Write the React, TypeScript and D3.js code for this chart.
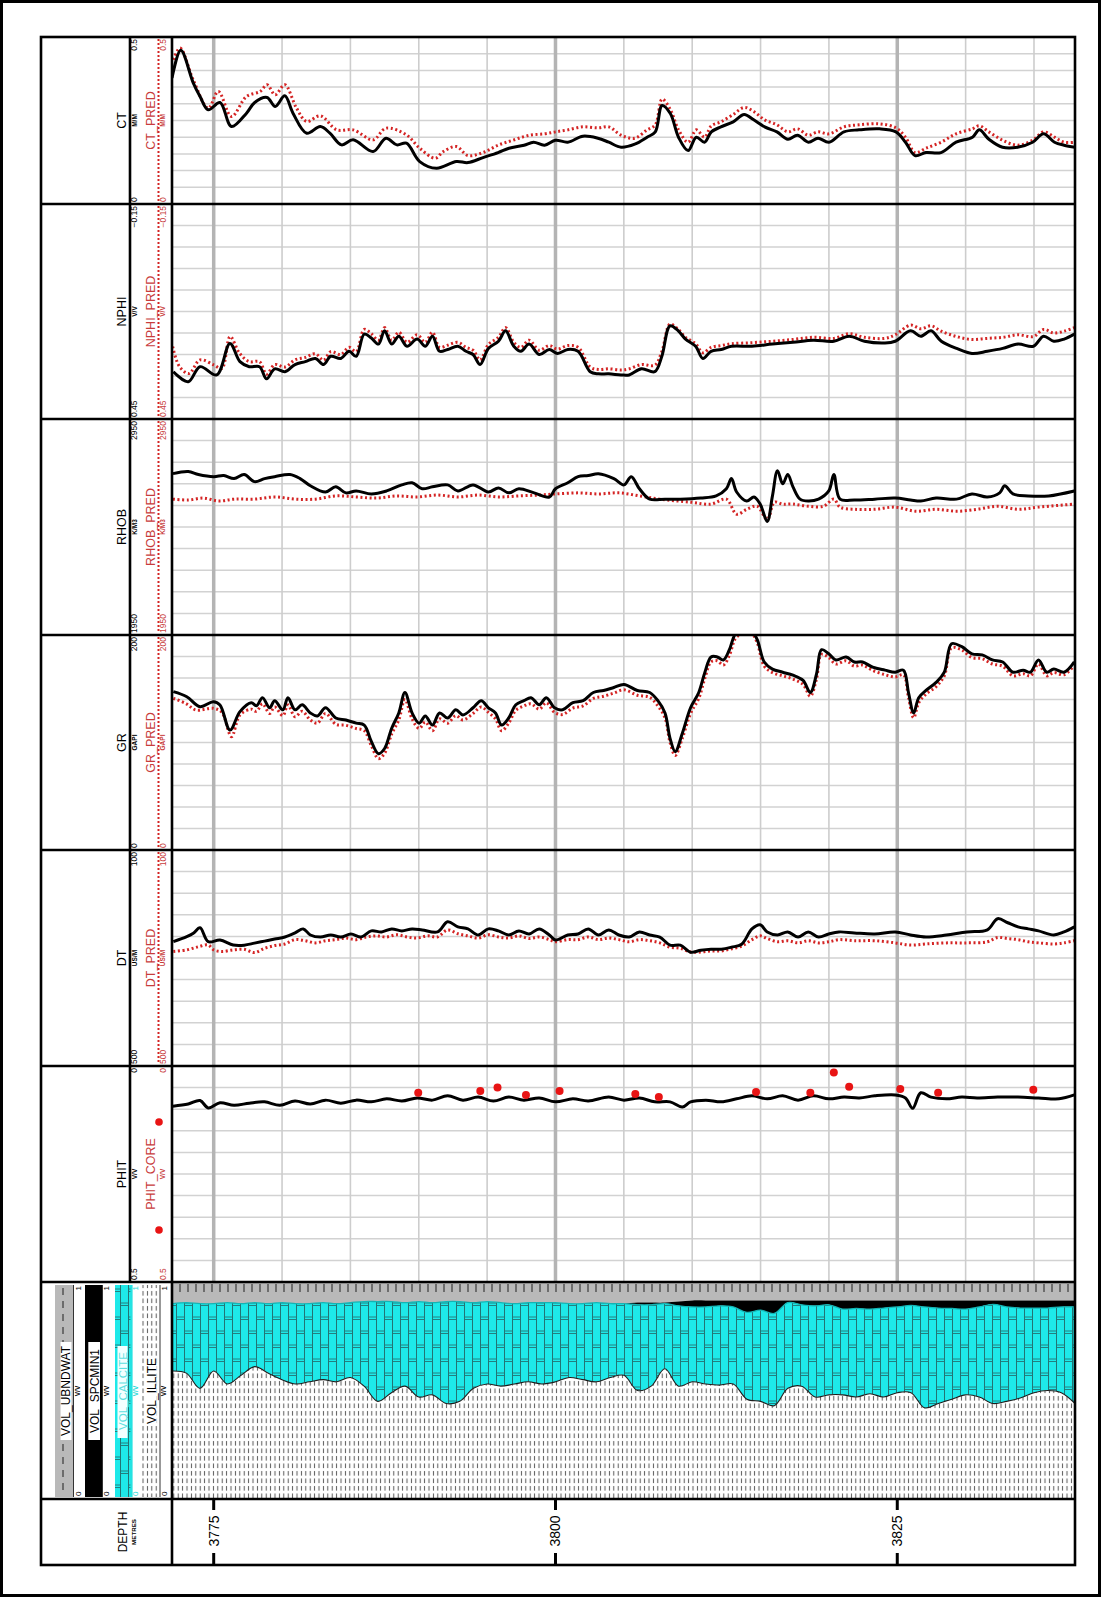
import React from 'react';
import * as d3 from 'd3';

type P = [number, number];

// ---------------- log curves: [depth (m), value] ----------------
const CT: P[] = [[3771.95,0.377],[3772.59,0.46],[3773.51,0.362],[3774.0,0.322],[3774.6,0.282],[3775.46,0.304],[3776.3,0.232],[3777.4,0.272],[3778.0,0.304],[3778.9,0.319],[3779.5,0.292],[3780.2,0.324],[3780.8,0.272],[3781.8,0.212],[3782.8,0.232],[3783.5,0.212],[3784.35,0.177],[3785.2,0.192],[3786.66,0.157],[3787.6,0.197],[3788.4,0.177],[3789.1,0.182],[3790.07,0.127],[3791.3,0.107],[3792.75,0.127],[3793.6,0.124],[3794.7,0.139],[3795.8,0.154],[3796.6,0.167],[3797.7,0.176],[3798.4,0.185],[3799.2,0.176],[3800.0,0.191],[3800.9,0.185],[3802.0,0.203],[3803.1,0.197],[3803.9,0.185],[3804.8,0.17],[3805.8,0.179],[3806.7,0.2],[3807.3,0.216],[3807.8,0.295],[3808.4,0.271],[3809.0,0.2],[3809.7,0.16],[3810.3,0.2],[3810.9,0.185],[3811.4,0.216],[3812.1,0.231],[3813.0,0.246],[3813.8,0.268],[3814.5,0.252],[3815.3,0.231],[3816.2,0.216],[3817.0,0.194],[3817.7,0.206],[3818.5,0.185],[3819.2,0.197],[3820.0,0.185],[3821.1,0.216],[3822.2,0.222],[3823.7,0.225],[3824.9,0.216],[3825.6,0.185],[3826.3,0.145],[3827.1,0.154],[3828.2,0.154],[3829.3,0.185],[3830.5,0.2],[3831.0,0.222],[3831.7,0.194],[3832.7,0.17],[3833.8,0.17],[3834.9,0.185],[3835.7,0.21],[3836.5,0.185],[3837.2,0.176],[3838.0,0.17]];
const CT_PRED: P[] = [[3772.05,0.432],[3772.54,0.467],[3773.5,0.372],[3774.6,0.287],[3775.34,0.337],[3776.3,0.262],[3777.4,0.322],[3778.4,0.337],[3778.9,0.357],[3779.5,0.327],[3780.2,0.357],[3781.06,0.287],[3781.8,0.247],[3782.8,0.264],[3784.0,0.222],[3785.2,0.222],[3786.66,0.192],[3787.6,0.227],[3789.1,0.207],[3790.07,0.167],[3791.2,0.137],[3791.8,0.157],[3792.75,0.172],[3793.6,0.145],[3794.7,0.154],[3795.8,0.176],[3796.9,0.191],[3798.1,0.206],[3799.2,0.21],[3800.0,0.216],[3800.9,0.222],[3802.0,0.231],[3803.1,0.228],[3803.9,0.231],[3804.8,0.206],[3805.8,0.197],[3806.7,0.222],[3807.3,0.237],[3807.8,0.314],[3808.4,0.283],[3809.0,0.222],[3809.7,0.185],[3810.3,0.222],[3810.9,0.2],[3811.4,0.234],[3812.1,0.246],[3813.0,0.268],[3813.8,0.289],[3814.5,0.277],[3815.3,0.252],[3816.2,0.237],[3817.0,0.216],[3817.7,0.225],[3818.5,0.206],[3819.2,0.216],[3820.0,0.21],[3821.1,0.231],[3822.2,0.237],[3823.7,0.24],[3824.9,0.228],[3825.6,0.2],[3826.3,0.154],[3827.1,0.167],[3828.2,0.185],[3829.3,0.21],[3830.5,0.225],[3831.0,0.234],[3831.7,0.216],[3832.7,0.191],[3833.8,0.176],[3834.9,0.191],[3835.7,0.216],[3836.5,0.2],[3837.2,0.185],[3838.0,0.185]];

const NPHI: P[] = [[3772.05,0.318],[3773.14,0.346],[3774.0,0.304],[3775.22,0.327],[3776.19,0.239],[3776.92,0.29],[3777.6,0.304],[3778.35,0.304],[3778.87,0.338],[3779.46,0.31],[3780.21,0.318],[3780.95,0.298],[3781.7,0.29],[3782.44,0.281],[3783.04,0.298],[3783.56,0.275],[3784.3,0.281],[3784.9,0.261],[3785.42,0.275],[3786.01,0.213],[3786.53,0.224],[3787.05,0.241],[3787.5,0.204],[3788.02,0.241],[3788.54,0.219],[3789.14,0.247],[3789.88,0.227],[3790.48,0.247],[3791.0,0.219],[3791.52,0.261],[3792.11,0.256],[3792.86,0.247],[3793.45,0.261],[3793.97,0.27],[3794.49,0.298],[3795.09,0.253],[3795.83,0.233],[3796.35,0.204],[3796.95,0.247],[3797.47,0.261],[3798.07,0.241],[3798.81,0.27],[3799.55,0.256],[3800.15,0.267],[3800.9,0.256],[3801.65,0.261],[3802.54,0.318],[3803.14,0.324],[3803.89,0.324],[3804.79,0.327],[3805.39,0.327],[3806.29,0.31],[3807.26,0.318],[3807.78,0.275],[3808.38,0.19],[3808.98,0.204],[3809.51,0.227],[3810.25,0.247],[3810.78,0.281],[3811.38,0.261],[3812.13,0.256],[3812.87,0.247],[3814.37,0.247],[3815.87,0.241],[3817.37,0.236],[3818.86,0.23],[3820.36,0.233],[3821.48,0.219],[3822.6,0.233],[3824.1,0.238],[3824.85,0.233],[3825.97,0.204],[3826.72,0.219],[3827.47,0.204],[3828.22,0.233],[3829.34,0.253],[3830.46,0.267],[3831.59,0.261],[3832.71,0.253],[3833.83,0.241],[3834.96,0.247],[3835.7,0.219],[3836.45,0.233],[3837.2,0.227],[3837.95,0.213]];
const NPHI_PRED: P[] = [[3772.0,0.248],[3772.5,0.304],[3773.2,0.323],[3774.0,0.285],[3775.0,0.299],[3775.6,0.309],[3776.2,0.22],[3776.9,0.267],[3777.6,0.29],[3778.35,0.29],[3778.87,0.325],[3779.46,0.298],[3780.21,0.305],[3780.95,0.285],[3781.7,0.278],[3782.44,0.268],[3783.04,0.286],[3783.56,0.262],[3784.3,0.27],[3784.9,0.25],[3785.42,0.262],[3786.01,0.2],[3786.53,0.212],[3787.05,0.23],[3787.5,0.195],[3788.02,0.23],[3788.54,0.208],[3789.14,0.236],[3789.88,0.215],[3790.48,0.236],[3791.0,0.208],[3791.52,0.25],[3792.11,0.244],[3792.86,0.236],[3793.45,0.25],[3793.97,0.258],[3794.49,0.285],[3795.09,0.242],[3795.83,0.222],[3796.35,0.195],[3796.95,0.236],[3797.47,0.25],[3798.07,0.23],[3798.81,0.258],[3799.55,0.245],[3800.15,0.255],[3800.9,0.245],[3801.65,0.25],[3802.54,0.305],[3803.14,0.312],[3803.89,0.31],[3804.79,0.313],[3805.39,0.31],[3806.29,0.298],[3807.26,0.3],[3807.78,0.262],[3808.38,0.185],[3808.98,0.2],[3809.51,0.222],[3810.25,0.24],[3810.78,0.265],[3811.38,0.25],[3812.13,0.245],[3812.87,0.24],[3814.37,0.237],[3815.87,0.233],[3817.37,0.228],[3818.86,0.222],[3820.36,0.225],[3821.48,0.212],[3822.6,0.222],[3824.1,0.225],[3824.85,0.215],[3825.97,0.188],[3826.72,0.198],[3827.47,0.19],[3828.22,0.205],[3829.34,0.22],[3830.46,0.228],[3831.59,0.225],[3832.71,0.222],[3833.83,0.215],[3834.96,0.22],[3835.7,0.2],[3836.45,0.21],[3837.2,0.205],[3837.95,0.195]];

const RHOB: P[] = [[3772.02,2697],[3773.14,2707],[3773.88,2693],[3775.0,2683],[3775.74,2688],[3776.49,2674],[3777.23,2693],[3777.98,2660],[3778.72,2674],[3779.46,2683],[3780.58,2693],[3781.32,2674],[3782.07,2641],[3783.18,2612],[3783.93,2636],[3784.67,2608],[3785.42,2617],[3786.53,2603],[3787.65,2617],[3788.76,2645],[3789.51,2655],[3790.25,2627],[3791.0,2636],[3792.11,2645],[3792.86,2617],[3793.97,2645],[3795.09,2612],[3795.83,2631],[3796.58,2608],[3797.32,2627],[3798.44,2608],[3799.55,2589],[3800.0,2627],[3800.9,2655],[3801.65,2683],[3802.4,2688],[3803.14,2697],[3804.27,2674],[3805.01,2645],[3805.54,2683],[3806.14,2627],[3806.89,2579],[3808.01,2579],[3809.13,2579],[3810.63,2584],[3811.75,2594],[3812.5,2627],[3812.87,2674],[3813.25,2612],[3813.99,2570],[3814.52,2589],[3814.97,2556],[3815.49,2476],[3815.87,2594],[3816.24,2711],[3816.62,2650],[3816.99,2693],[3817.37,2636],[3817.89,2579],[3818.49,2570],[3819.24,2579],[3819.99,2617],[3820.36,2693],[3820.81,2579],[3821.86,2575],[3823.35,2579],[3824.85,2584],[3825.97,2575],[3826.72,2570],[3827.84,2584],[3829.34,2579],[3830.46,2603],[3831.59,2589],[3832.49,2608],[3832.86,2641],[3833.46,2603],[3834.58,2594],[3836.08,2594],[3837.95,2617]];
const RHOB_PRED: P[] = [[3772.02,2579],[3773.14,2575],[3774.26,2584],[3775.37,2570],[3776.49,2579],[3777.98,2579],[3779.46,2589],[3780.95,2579],[3782.44,2579],[3783.93,2594],[3785.42,2589],[3786.9,2584],[3788.39,2594],[3789.88,2589],[3791.37,2598],[3792.86,2589],[3794.35,2598],[3795.83,2589],[3797.32,2594],[3798.81,2598],[3800.0,2603],[3801.65,2608],[3803.14,2603],[3804.64,2608],[3806.14,2594],[3807.63,2579],[3809.88,2565],[3811.38,2556],[3812.5,2579],[3813.25,2509],[3813.99,2532],[3814.75,2546],[3815.49,2485],[3816.02,2565],[3816.62,2556],[3817.37,2556],[3818.49,2546],[3819.61,2546],[3820.36,2579],[3820.81,2542],[3821.86,2532],[3823.35,2532],[3824.85,2542],[3826.35,2523],[3827.84,2532],[3829.34,2523],[3830.84,2532],[3832.34,2546],[3833.83,2532],[3835.33,2542],[3837.95,2556]];

const GR: P[] = [[3772.05,147.3],[3773.03,142.6],[3774.0,133.3],[3774.97,138],[3775.46,134.9],[3776.19,111.6],[3776.92,128.7],[3777.75,137.0],[3778.13,134.2],[3778.57,141.7],[3779.09,132.3],[3779.46,138.9],[3780.06,130.4],[3780.43,141.7],[3780.95,130.4],[3781.47,135.1],[3782.07,127.5],[3782.59,124.7],[3783.18,132.3],[3783.93,122.8],[3784.67,120.9],[3785.42,118.0],[3786.01,116.2],[3786.53,101.0],[3787.05,89.6],[3787.5,94.4],[3788.02,113.3],[3788.54,127.5],[3788.99,146.5],[3789.51,127.5],[3790.03,118.0],[3790.48,124.7],[3791.0,116.2],[3791.52,127.5],[3792.11,122.8],[3792.71,130.4],[3793.23,125.6],[3793.97,132.3],[3794.57,138.9],[3795.09,132.3],[3795.61,127.5],[3796.06,116.2],[3796.58,122.8],[3797.1,135.1],[3797.69,138.9],[3798.21,141.7],[3798.81,135.1],[3799.33,141.7],[3799.93,132.3],[3800.52,130.4],[3801.27,137.0],[3802.02,138.9],[3802.77,146.5],[3803.52,148.4],[3804.27,151.2],[3805.01,154.0],[3805.99,148.4],[3806.89,146.5],[3807.49,138.9],[3808.01,127.5],[3808.38,103.8],[3808.76,91.5],[3809.28,108.6],[3809.88,132.3],[3810.48,146.5],[3810.93,165.4],[3811.38,179.6],[3811.83,179.6],[3812.28,176.8],[3812.72,186.3],[3813.17,201],[3813.62,203],[3814.37,203],[3814.75,196],[3815.27,174.9],[3815.87,168.3],[3816.62,165.4],[3817.37,162.6],[3818.11,157.8],[3818.64,146.5],[3819.09,163.5],[3819.46,186.3],[3819.99,182.5],[3820.51,176.8],[3821.26,179.6],[3821.86,174.9],[3822.46,174.9],[3823.2,170.1],[3824.1,167.3],[3824.85,165.4],[3825.45,167.3],[3825.82,146.5],[3826.2,127.5],[3826.57,141.7],[3827.1,148.4],[3827.84,155.9],[3828.44,165.4],[3828.97,191.9],[3829.72,189.1],[3830.46,182.5],[3831.21,181.5],[3831.96,176.8],[3832.71,174.9],[3833.46,165.4],[3834.21,167.3],[3834.73,165.4],[3835.33,176.8],[3835.93,165.4],[3836.45,168.3],[3837.2,165.4],[3837.95,174.9]];
const GR_PRED: P[] = [[3772.05,141.1],[3773.0,136],[3773.7,130.2],[3774.97,131.8],[3775.6,128],[3776.3,105.4],[3776.92,125.6],[3777.75,131],[3778.13,129],[3778.57,136],[3779.09,127],[3779.46,133],[3780.06,125],[3780.43,135],[3780.95,124],[3781.47,129],[3782.07,121],[3782.59,118],[3783.18,127],[3783.93,117],[3784.67,116],[3785.42,113],[3786.01,111],[3786.53,97],[3787.05,85],[3787.5,90],[3788.02,108],[3788.54,121],[3788.99,140],[3789.51,122],[3790.03,113],[3790.48,119],[3791.0,111],[3791.52,122],[3792.11,118],[3792.71,125],[3793.23,121],[3793.97,127],[3794.57,133],[3795.09,128],[3795.61,122],[3796.06,111],[3796.58,118],[3797.1,130],[3797.69,134],[3798.21,136],[3798.81,131],[3799.33,137],[3799.93,128],[3800.52,126],[3801.27,132],[3802.02,134],[3802.77,141],[3803.52,143],[3804.27,146],[3805.01,149],[3805.99,144],[3806.89,142],[3807.49,134],[3808.01,123],[3808.38,100],[3808.76,88],[3809.28,104],[3809.88,127],[3810.48,141],[3810.93,160],[3811.38,175],[3811.83,176],[3812.28,172],[3812.72,181],[3813.17,197],[3813.62,201],[3814.37,201],[3814.75,193],[3815.27,171],[3815.87,165],[3816.62,162],[3817.37,159],[3818.11,154],[3818.64,143],[3819.09,159],[3819.46,182],[3819.99,179],[3820.51,173],[3821.26,176],[3821.86,171],[3822.46,172],[3823.2,167],[3824.1,163],[3824.85,161],[3825.45,163],[3825.82,142],[3826.2,123],[3826.57,137],[3827.1,145],[3827.84,152],[3828.44,162],[3828.97,188],[3829.72,186],[3830.46,179],[3831.21,178],[3831.96,173],[3832.71,171],[3833.46,162],[3834.21,164],[3834.73,162],[3835.33,173],[3835.93,162],[3836.45,165],[3837.2,163],[3837.95,172]];

const DT: P[] = [[3772.05,269.8],[3773.03,260.6],[3773.51,254.3],[3774.0,243.9],[3774.6,269.8],[3775.46,266.7],[3776.43,275.9],[3777.23,276.2],[3777.98,272.5],[3778.72,268.7],[3779.46,264.9],[3780.21,261.2],[3780.95,253.6],[3781.55,246.1],[3782.07,257.4],[3782.81,261.2],[3783.56,257.4],[3784.3,261.2],[3785.04,255.5],[3785.79,261.2],[3786.53,249.8],[3787.28,251.7],[3788.02,246.1],[3788.76,249.8],[3789.51,246.1],[3790.25,248.0],[3791.37,251.7],[3792.11,232.9],[3792.86,242.3],[3793.6,246.1],[3794.35,257.4],[3795.09,246.1],[3795.83,249.8],[3796.58,257.4],[3797.32,249.8],[3798.07,255.5],[3798.81,246.1],[3799.55,257.4],[3800.0,266.8],[3800.9,257.4],[3801.65,255.5],[3802.4,246.1],[3803.14,257.4],[3803.89,248.0],[3804.64,257.4],[3805.39,261.2],[3806.14,251.7],[3806.89,257.4],[3807.63,261.2],[3808.38,276.2],[3809.13,276.2],[3809.88,289.4],[3810.63,285.7],[3811.38,283.8],[3812.13,283.8],[3812.87,280.0],[3813.62,274.4],[3814.37,246.1],[3814.97,238.5],[3815.49,251.7],[3816.24,257.4],[3816.99,251.7],[3817.74,261.2],[3818.49,251.7],[3819.24,261.2],[3819.99,255.5],[3820.73,251.7],[3821.86,253.6],[3823.35,255.5],[3824.85,251.7],[3825.97,257.4],[3827.1,261.2],[3828.59,257.4],[3830.09,251.7],[3831.59,248.0],[3832.34,227.2],[3833.08,234.7],[3833.83,242.3],[3834.58,246.1],[3835.33,249.8],[3836.45,257.4],[3837.2,251.7],[3837.95,242.3]];
const DT_PRED: P[] = [[3772.05,288],[3773.03,285],[3773.9,279],[3774.6,276],[3775.0,285],[3775.6,288],[3776.43,285],[3777.23,284],[3777.98,290],[3778.72,282],[3779.46,277],[3780.21,274],[3780.95,266],[3781.7,268],[3782.44,272],[3783.18,268],[3783.93,266],[3784.67,263],[3785.42,266],[3786.16,261],[3786.9,259],[3787.65,261],[3788.39,257],[3789.14,261],[3789.88,263],[3790.63,259],[3791.37,261],[3792.11,248],[3792.86,255],[3793.6,259],[3794.35,263],[3795.09,257],[3795.83,261],[3796.58,263],[3797.32,259],[3798.07,264],[3798.81,261],[3799.55,266],[3800.0,270],[3800.9,266],[3801.65,266],[3802.4,261],[3803.14,266],[3803.89,263],[3804.64,266],[3805.39,270],[3806.14,266],[3806.89,268],[3807.63,272],[3808.38,280],[3809.13,282],[3809.88,289],[3810.63,289],[3811.38,287],[3812.13,287],[3812.87,283],[3813.62,278],[3814.37,266],[3814.97,259],[3815.49,264],[3816.24,270],[3816.99,268],[3817.74,272],[3818.49,268],[3819.24,272],[3819.99,270],[3820.73,266],[3821.86,268],[3823.35,268],[3824.85,272],[3825.97,276],[3827.1,274],[3828.59,272],[3830.09,272],[3831.59,270],[3832.34,262],[3833.08,264],[3833.83,266],[3834.58,270],[3835.33,272],[3836.45,274],[3837.2,272],[3837.95,268]];

const PHIT: P[] = [[3772.02,0.093],[3773.14,0.088],[3774.0,0.08],[3774.6,0.097],[3775.46,0.085],[3776.49,0.091],[3777.6,0.086],[3778.72,0.083],[3779.84,0.091],[3780.95,0.081],[3782.07,0.088],[3783.18,0.079],[3784.3,0.086],[3785.42,0.079],[3786.53,0.083],[3787.65,0.076],[3788.76,0.081],[3789.88,0.074],[3791.0,0.079],[3792.11,0.069],[3793.23,0.079],[3794.35,0.072],[3795.46,0.081],[3796.58,0.072],[3797.69,0.079],[3798.81,0.074],[3800.0,0.083],[3801.27,0.076],[3802.4,0.081],[3803.89,0.072],[3805.01,0.079],[3806.14,0.074],[3807.26,0.083],[3808.38,0.083],[3809.28,0.095],[3809.88,0.083],[3811.0,0.079],[3812.13,0.083],[3813.25,0.076],[3814.37,0.069],[3815.49,0.076],[3816.62,0.069],[3817.74,0.079],[3818.86,0.069],[3819.99,0.076],[3821.11,0.072],[3822.23,0.074],[3823.35,0.069],[3824.85,0.067],[3825.6,0.074],[3826.12,0.098],[3826.72,0.062],[3827.47,0.072],[3828.59,0.076],[3829.72,0.072],[3830.84,0.074],[3832.34,0.072],[3833.83,0.072],[3835.33,0.074],[3836.83,0.076],[3837.95,0.067]];
const PHIT_CORE: P[] = [[3789.96,0.062],[3794.5,0.058],[3795.76,0.05],[3797.84,0.067],[3800.3,0.058],[3805.84,0.065],[3807.56,0.072],[3814.67,0.06],[3818.64,0.062],[3820.36,0.015],[3821.48,0.048],[3825.22,0.053],[3827.99,0.062],[3834.95,0.055]];

// ---------------- mineral volumes (V/V) on a 1 m grid ----------------
const LITHO_DEPTH = [3772,3773,3774,3775,3776,3777,3778,3779,3780,3781,3782,3783,3784,3785,3786,3787,3788,3789,3790,3791,3792,3793,3794,3795,3796,3797,3798,3799,3800,3801,3802,3803,3804,3805,3806,3807,3808,3809,3810,3811,3812,3813,3814,3815,3816,3817,3818,3819,3820,3821,3822,3823,3824,3825,3826,3827,3828,3829,3830,3831,3832,3833,3834,3835,3836,3837,3838];
const VOL_ILLITE = [0.59,0.58,0.51,0.59,0.53,0.57,0.61,0.58,0.55,0.53,0.54,0.55,0.54,0.56,0.52,0.45,0.49,0.52,0.47,0.48,0.44,0.45,0.51,0.53,0.52,0.53,0.54,0.53,0.54,0.56,0.55,0.54,0.56,0.57,0.50,0.52,0.60,0.52,0.54,0.53,0.525,0.53,0.46,0.45,0.43,0.51,0.52,0.47,0.48,0.48,0.47,0.485,0.47,0.49,0.49,0.42,0.44,0.46,0.48,0.47,0.44,0.45,0.465,0.49,0.50,0.49,0.44];
const VOL_CALCITE = [0.31,0.325,0.39,0.31,0.375,0.33,0.295,0.32,0.355,0.37,0.36,0.355,0.36,0.345,0.39,0.46,0.42,0.385,0.44,0.425,0.47,0.46,0.395,0.38,0.385,0.37,0.365,0.375,0.365,0.34,0.35,0.365,0.34,0.33,0.395,0.375,0.30,0.37,0.345,0.355,0.365,0.355,0.40,0.42,0.425,0.395,0.375,0.42,0.415,0.395,0.408,0.39,0.41,0.395,0.402,0.465,0.44,0.418,0.395,0.415,0.457,0.435,0.415,0.39,0.38,0.395,0.445];
const VOL_SPCMIN1 = [0,0,0,0,0,0,0,0,0,0,0,0,0,0,0,0,0,0,0,0,0,0,0,0,0,0,0,0,0,0,0,0,0,0,0.01,0.01,0.005,0.02,0.03,0.03,0.025,0.03,0.055,0.045,0.06,0.01,0.02,0.025,0.02,0.04,0.037,0.04,0.035,0.03,0.023,0.03,0.035,0.037,0.04,0.03,0.018,0.03,0.035,0.035,0.035,0.03,0.03];
const VOL_UBNDWAT = [0.10,0.095,0.10,0.10,0.095,0.10,0.095,0.10,0.095,0.10,0.10,0.095,0.10,0.095,0.09,0.09,0.09,0.095,0.09,0.095,0.09,0.09,0.095,0.09,0.095,0.10,0.095,0.095,0.095,0.10,0.10,0.095,0.10,0.10,0.095,0.095,0.095,0.09,0.085,0.085,0.085,0.085,0.085,0.085,0.085,0.085,0.085,0.085,0.085,0.085,0.085,0.085,0.085,0.085,0.085,0.085,0.085,0.085,0.085,0.085,0.085,0.085,0.085,0.085,0.085,0.085,0.085];

const DEPTH_LABELS = [3775, 3800, 3825];
const DEPTH_RANGE: [number, number] = [3771.95, 3838];

// ---------------- layout ----------------
const W = 1101;
const H = 1597;
const LEFT = 41;
const SPLIT = 130;
const X0 = 172;
const X1 = 1075;
const TOP = 37;
const BOTTOM = 1565;
const LITHO_TOP = 1282;
const LITHO_BOTTOM = 1499;
const FONT = "'Liberation Sans', Arial, Helvetica, sans-serif";
const RED_TEXT = '#c83c3c';
const RED_CURVE = '#d42424';

interface LogTrack {
  top: number; bottom: number;
  name: string; unit: string;
  lo: number; hi: number; loText: string; hiText: string;
  main: P[];
  predName: string; predUnit: string;
  pred?: P[]; core?: P[];
}

const TRACKS: LogTrack[] = [
  { top: 37, bottom: 204, name: 'CT', unit: 'M/M', lo: 0, hi: 0.5, loText: '0', hiText: '0.5', main: CT, predName: 'CT_PRED', predUnit: 'M/M', pred: CT_PRED },
  { top: 204, bottom: 419, name: 'NPHI', unit: 'V/V', lo: 0.45, hi: -0.15, loText: '0.45', hiText: '\u22120.15', main: NPHI, predName: 'NPHI_PRED', predUnit: 'V/V', pred: NPHI_PRED },
  { top: 419, bottom: 635, name: 'RHOB', unit: 'K/M3', lo: 1950, hi: 2950, loText: '1950', hiText: '2950', main: RHOB, predName: 'RHOB_PRED', predUnit: 'K/M3', pred: RHOB_PRED },
  { top: 635, bottom: 850, name: 'GR', unit: 'GAPI', lo: 0, hi: 200, loText: '0', hiText: '200', main: GR, predName: 'GR_PRED', predUnit: 'GAPI', pred: GR_PRED },
  { top: 850, bottom: 1066, name: 'DT', unit: 'US/M', lo: 500, hi: 100, loText: '500', hiText: '100', main: DT, predName: 'DT_PRED', predUnit: 'US/M', pred: DT_PRED },
  { top: 1066, bottom: 1282, name: 'PHIT', unit: 'V/V', lo: 0.5, hi: 0, loText: '0.5', hiText: '0', main: PHIT, predName: 'PHIT_CORE', predUnit: 'V/V', core: PHIT_CORE },
];

function VText(props: { x: number; y: number; text: string; size: number; anchor?: string; fill?: string; weight?: string | number }) {
  const { x, y, text, size, anchor = 'middle', fill = '#000', weight = 'normal' } = props;
  return (
    <text transform={`translate(${x},${y}) rotate(-90)`} dy="0.35em" textAnchor={anchor}
      fontSize={size} fill={fill} fontWeight={weight} fontFamily={FONT}>{text}</text>
  );
}

export default function App() {
  const x = d3.scaleLinear().domain(DEPTH_RANGE).range([X0, X1]);
  const gridDepths = d3.range(3775, 3836, 5);
  const smooth = d3.curveCatmullRom.alpha(0.5);

  // stacked mineral boundaries, bottom to top
  const litho = LITHO_DEPTH.map((d, i) => {
    const c1 = VOL_ILLITE[i];
    const c2 = c1 + VOL_CALCITE[i];
    const c3 = c2 + VOL_SPCMIN1[i];
    const c4 = c3 + VOL_UBNDWAT[i];
    return { d, c1, c2, c3, c4 };
  });
  const ly = d3.scaleLinear().domain([0, 1]).range([LITHO_BOTTOM, LITHO_TOP]);
  type L = typeof litho[number];
  const band = (lo: (r: L) => number, hi: (r: L) => number) =>
    d3.area<L>().curve(smooth).x(r => x(r.d)).y0(r => ly(lo(r))).y1(r => ly(hi(r)))(litho) || '';
  const edge = (f: (r: L) => number) => d3.line<L>().curve(smooth).x(r => x(r.d)).y(r => ly(f(r)))(litho) || '';

  const verticalGrid = (top: number, bottom: number) =>
    gridDepths.map(d => (
      <line key={`v${d}`} x1={x(d)} x2={x(d)} y1={top} y2={bottom}
        stroke={d % 25 === 0 ? '#b4b4b4' : '#cdcdcd'} strokeWidth={d % 25 === 0 ? 3.5 : 1.6} />
    ));

  return (
    <svg width={W} height={H} style={{ position: 'absolute', left: 0, top: 0, background: '#fff' }}>
      <defs>
        <pattern id="pat-ubw" patternUnits="userSpaceOnUse" width={8} height={40}>
          <rect width={8} height={40} fill="#b9b9b9" />
          <line x1={4} x2={4} y1={4} y2={12} stroke="#3a3a3a" strokeWidth={1.2} />
        </pattern>
        <pattern id="pat-calc" patternUnits="userSpaceOnUse" width={16} height={28}>
          <rect width={16} height={28} fill="#1ee9e9" />
          <line x1={0.5} x2={0.5} y1={0} y2={28} stroke="#237474" strokeWidth={1} />
          <line x1={8.5} x2={8.5} y1={0} y2={28} stroke="#237474" strokeWidth={1} />
          <line x1={0.5} x2={8.5} y1={1} y2={1} stroke="#237474" strokeWidth={0.9} />
          <line x1={0.5} x2={8.5} y1={3.5} y2={3.5} stroke="#237474" strokeWidth={0.9} />
          <line x1={8.5} x2={16.5} y1={15} y2={15} stroke="#237474" strokeWidth={0.9} />
          <line x1={8.5} x2={16.5} y1={17.5} y2={17.5} stroke="#237474" strokeWidth={0.9} />
        </pattern>
        <pattern id="pat-ill" patternUnits="userSpaceOnUse" width={4.4} height={7.5}>
          <rect width={4.4} height={7.5} fill="#ffffff" />
          <line x1={2.2} x2={2.2} y1={1} y2={5.6} stroke="#585858" strokeWidth={1} />
        </pattern>
        {TRACKS.map((t, i) => (
          <clipPath key={i} id={`clip-${i}`}>
            <rect x={X0} y={t.top} width={X1 - X0} height={t.bottom - t.top} />
          </clipPath>
        ))}
        <clipPath id="clip-litho">
          <rect x={X0} y={LITHO_TOP} width={X1 - X0} height={LITHO_BOTTOM - LITHO_TOP} />
        </clipPath>
      </defs>

      <rect x={0} y={0} width={W} height={H} fill="#fff" />

      {/* log tracks */}
      {TRACKS.map((t, i) => {
        const y = d3.scaleLinear().domain([t.lo, t.hi]).range([t.bottom, t.top]);
        const line = d3.line<P>().curve(smooth).x(p => x(p[0])).y(p => y(p[1]));
        const mid = (t.top + t.bottom) / 2;
        const rows = d3.range(1, 10).map(k => t.top + (k * (t.bottom - t.top)) / 10);
        return (
          <g key={t.name}>
            {rows.map((ry, k) => (
              <line key={`h${k}`} x1={X0} x2={X1} y1={ry} y2={ry} stroke="#d2d2d2" strokeWidth={1.5} />
            ))}
            {verticalGrid(t.top, t.bottom)}
            <g clipPath={`url(#clip-${i})`}>
              {t.pred && (
                <path d={line(t.pred) || ''} fill="none" stroke={RED_CURVE} strokeWidth={3}
                  strokeDasharray="2 2.6" />
              )}
              <path d={line(t.main) || ''} fill="none" stroke="#000" strokeWidth={3} strokeLinejoin="round" />
              {t.core && t.core.map((p, k) => (
                <circle key={k} cx={x(p[0])} cy={y(p[1])} r={4} fill="#e81414" />
              ))}
            </g>

            {/* header */}
            <VText x={121.5} y={mid} text={t.name} size={12.5} />
            <VText x={135} y={mid} text={t.unit} size={6.5} weight="bold" />
            <VText x={134.5} y={t.top + 2} text={t.hiText} size={8.5} anchor="end" />
            <VText x={134.5} y={t.bottom - 2} text={t.loText} size={8.5} anchor="start" />
            {t.pred && (
              <line x1={158.5} x2={158.5} y1={t.top + 2} y2={t.bottom - 2} stroke={RED_CURVE}
                strokeWidth={2} strokeDasharray="2 2" />
            )}
            {t.core && (
              <g>
                <circle cx={159} cy={1122} r={3.8} fill="#e81414" />
                <circle cx={159} cy={1230} r={3.8} fill="#e81414" />
              </g>
            )}
            <VText x={151} y={mid} text={t.predName} size={12.5} fill={RED_TEXT} />
            <VText x={163} y={mid} text={t.predUnit} size={6.5} weight="bold" fill={RED_TEXT} />
            <VText x={163.5} y={t.top + 2} text={t.hiText} size={8.5} anchor="end" fill={RED_TEXT} />
            <VText x={163.5} y={t.bottom - 2} text={t.loText} size={8.5} anchor="start" fill={RED_TEXT} />
          </g>
        );
      })}

      {/* mineral volume track */}
      <g clipPath="url(#clip-litho)">
        <path d={band(r => r.c3, r => r.c4)} fill="url(#pat-ubw)" />
        <path d={band(r => r.c2, r => r.c3)} fill="#000" />
        <path d={band(r => r.c1, r => r.c2)} fill="url(#pat-calc)" />
        <path d={band(() => 0, r => r.c1)} fill="url(#pat-ill)" />
        <path d={edge(r => r.c2)} fill="none" stroke="#14b4b4" strokeWidth={1.3} />
        <path d={edge(r => r.c1)} fill="none" stroke="#1c1c1c" strokeWidth={1.1} />
      </g>

      {/* mineral legend */}
      <g>
        <rect x={55} y={1285} width={18} height={212} fill="#b9b9b9" />
        <line x1={63} x2={63} y1={1288} y2={1495} stroke="#3a3a3a" strokeWidth={1.2} strokeDasharray="7 6" />
        <line x1={73.5} x2={73.5} y1={1285} y2={1497} stroke="#333" strokeWidth={1} />
        <rect x={60.5} y={1342} width={11} height={98} fill="#fff" />
        <VText x={66} y={1391} text="VOL_UBNDWAT" size={12} />
        <VText x={77.7} y={1391} text="V/V" size={6.5} weight="bold" />
        <VText x={77.7} y={1286} text="1" size={8} anchor="end" />
        <VText x={77.7} y={1496} text="0" size={8} anchor="start" />

        <rect x={85} y={1285} width={17} height={212} fill="#000" />
        <line x1={102.5} x2={102.5} y1={1285} y2={1497} stroke="#333" strokeWidth={1} />
        <rect x={88.3} y={1342} width={11.7} height={98} fill="#fff" />
        <VText x={94.3} y={1391} text="VOL_SPCMIN1" size={12} />
        <VText x={106.7} y={1391} text="V/V" size={6.5} weight="bold" />
        <VText x={106.5} y={1286} text="1" size={8} anchor="end" />
        <VText x={106.5} y={1496} text="0" size={8} anchor="start" />

        <rect x={115} y={1285} width={16} height={212} fill="url(#pat-calc)" />
        <line x1={131.5} x2={131.5} y1={1285} y2={1497} stroke="#25e2e2" strokeWidth={2.2} />
        <rect x={117.5} y={1346} width={10} height={92} fill="#f4ffff" />
        <VText x={122.5} y={1391} text="VOL_CALCITE" size={11.5} fill="#5fe0e0" />
        <VText x={135.3} y={1391} text="V/V" size={6.5} weight="bold" fill="#25d8d8" />
        <VText x={135.3} y={1286} text="1" size={8} anchor="end" fill="#25d8d8" />
        <VText x={135.3} y={1496} text="0" size={8} anchor="start" fill="#25d8d8" />

        <rect x={142} y={1285} width={16.5} height={212} fill="url(#pat-ill)" />
        <line x1={160} x2={160} y1={1285} y2={1497} stroke="#333" strokeWidth={1} />
        <rect x={146} y={1356} width={10.7} height={70} fill="#fff" />
        <VText x={151.3} y={1391} text="VOL_ILLITE" size={12} />
        <VText x={164} y={1391} text="V/V" size={6.5} weight="bold" />
        <VText x={164} y={1286} text="1" size={8} anchor="end" />
        <VText x={164} y={1496} text="0" size={8} anchor="start" />
      </g>

      {/* depth track */}
      <VText x={123} y={1532} text="DEPTH" size={12} />
      <VText x={133.5} y={1532} text="METRES" size={6.2} weight="bold" />
      {DEPTH_LABELS.map(d => (
        <g key={d}>
          <line x1={x(d)} x2={x(d)} y1={LITHO_BOTTOM} y2={1510} stroke="#000" strokeWidth={3} />
          <line x1={x(d)} x2={x(d)} y1={1553} y2={BOTTOM} stroke="#000" strokeWidth={3} />
          <VText x={x(d)} y={1531} text={String(d)} size={14} />
        </g>
      ))}

      {/* frame and separators */}
      {[204, 419, 635, 850, 1066, 1282, 1499].map(yy => (
        <line key={yy} x1={LEFT} x2={X1} y1={yy} y2={yy} stroke="#000" strokeWidth={2.6} />
      ))}
      <line x1={SPLIT} x2={SPLIT} y1={TOP} y2={LITHO_TOP} stroke="#000" strokeWidth={2.6} />
      <line x1={X0} x2={X0} y1={TOP} y2={BOTTOM} stroke="#000" strokeWidth={2.6} />
      <rect x={LEFT} y={TOP} width={X1 - LEFT} height={BOTTOM - TOP} fill="none" stroke="#000" strokeWidth={2.6} />
      <rect x={1.5} y={1.5} width={W - 3} height={H - 3} fill="none" stroke="#000" strokeWidth={3} />
    </svg>
  );
}
